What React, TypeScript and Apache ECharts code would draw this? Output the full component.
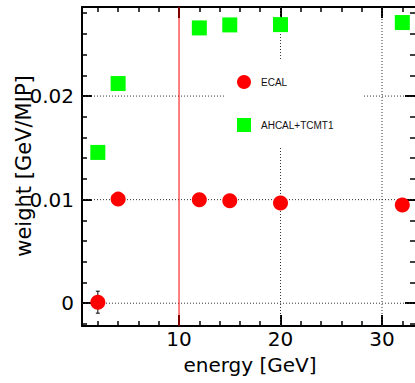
import React, { useEffect, useRef } from "react";
import * as echarts from "echarts";

// ---- data ----
const ENERGY = [2, 4, 12, 15, 20, 32];
const ECAL = [0.0001, 0.01005, 0.01, 0.0099, 0.00967, 0.00948];
const ECAL_ERR = [0.00106, 0.0003, 0.0002, 0.0002, 0.0002, 0.0002];
const AHCAL = [0.01456, 0.02121, 0.02658, 0.02687, 0.0269, 0.0271];

const X_MAJOR = [10, 20, 30];
const X_MINOR = [2, 4, 6, 8, 10, 12, 14, 16, 18, 20, 22, 24, 26, 28, 30, 32];
const Y_MAJOR = [0, 0.01, 0.02];
const Y_MINOR = [-0.002, 0, 0.002, 0.004, 0.006, 0.008, 0.01, 0.012, 0.014, 0.016, 0.018, 0.02, 0.022, 0.024, 0.026, 0.028];
const GRID_X = [20, 30];
const GRID_Y = [0, 0.01, 0.02];
const CUT_X = 10;

const X_MIN = 0.44;
const X_MAX = 33.25;
const Y_MIN = -0.0022;
const Y_MAX = 0.0286;

const FONT = "DejaVu Sans";

function xAx(position: "top" | "bottom", major: boolean, showLine: boolean, showLabel: boolean) {
  return {
    type: "value",
    min: X_MIN,
    max: X_MAX,
    position,
    axisLine: { show: showLine, onZero: false, lineStyle: { color: "#000", width: 2 } },
    axisTick: {
      show: true,
      inside: true,
      length: major ? 11 : 5,
      customValues: major ? X_MAJOR : X_MINOR,
      lineStyle: { color: "#000", width: major ? 2 : 1.5 },
    },
    axisLabel: {
      show: showLabel,
      customValues: X_MAJOR,
      margin: 5,
      fontFamily: FONT,
      fontSize: 20,
      lineHeight: 16,
      color: "#000",
    },
    splitLine: { show: false },
  };
}

function yAx(position: "left" | "right", major: boolean, showLine: boolean, showLabel: boolean) {
  return {
    type: "value",
    min: Y_MIN,
    max: Y_MAX,
    position,
    axisLine: { show: showLine, onZero: false, lineStyle: { color: "#000", width: 2 } },
    axisTick: {
      show: true,
      inside: true,
      length: major ? 10 : 5,
      customValues: major ? Y_MAJOR : Y_MINOR,
      lineStyle: { color: "#000", width: major ? 2 : 1.5 },
    },
    axisLabel: {
      show: showLabel,
      customValues: Y_MAJOR,
      margin: 8,
      fontFamily: FONT,
      fontSize: 20,
      color: "#000",
      formatter: (v: number) => (v === 0 ? "0" : String(v)),
    },
    splitLine: { show: false },
  };
}

function vLine(x: number, color: string, type: any, z: number) {
  return {
    type: "line",
    silent: true,
    z,
    symbol: "none",
    lineStyle: { color, width: 1, type, opacity: 1 },
    data: [[x, Y_MIN], [x, Y_MAX]],
  };
}
function hLine(y: number, color: string, type: any, z: number) {
  return {
    type: "line",
    silent: true,
    z,
    symbol: "none",
    lineStyle: { color, width: 1, type, opacity: 1 },
    data: [[X_MIN, y], [X_MAX, y]],
  };
}

export default function App() {
  const ref = useRef<HTMLDivElement>(null);
  useEffect(() => {
    if (!ref.current) return;
    const chart = echarts.init(ref.current, null, { renderer: "svg" });
    const option: any = {
      animation: false,
      backgroundColor: "#fff",
      grid: { left: 82, top: 7, right: 0, bottom: 57, containLabel: false },
      xAxis: [
        xAx("bottom", true, true, true),
        xAx("bottom", false, false, false),
        xAx("top", true, true, false),
        xAx("top", false, false, false),
      ],
      yAxis: [
        yAx("left", true, true, true),
        yAx("left", false, false, false),
        yAx("right", true, false, false),
        yAx("right", false, false, false),
      ],
      legend: {
        orient: "vertical",
        left: 226,
        top: 60,
        padding: [15, 30, 15, 11],
        itemGap: 29,
        itemWidth: 14,
        itemHeight: 14,
        backgroundColor: "#fff",
        selectedMode: false,
        textStyle: { fontFamily: "Liberation Sans", fontSize: 10, color: "#111", padding: [0, 0, 0, 5] },
        data: [
          { name: "ECAL", icon: "circle", itemStyle: { color: "#ff0000", opacity: 1 } },
          { name: "AHCAL+TCMT1", icon: "rect", itemStyle: { color: "#00ff00", opacity: 1 } },
        ],
      },
      graphic: [
        {
          type: "text",
          x: 250,
          y: 365,
          style: { text: "energy [GeV]", fontFamily: FONT, fontSize: 20, lineHeight: 16, fill: "#000", align: "center", verticalAlign: "middle" },
        },
        {
          type: "text",
          x: 24,
          y: 166,
          rotation: Math.PI / 2,
          style: { text: "weight [GeV/MIP]", fontFamily: FONT, fontSize: 21, fill: "#000", align: "center", verticalAlign: "middle" },
        },
      ],
      series: [
        ...GRID_X.map((v) => vLine(v, "#333", [1, 2], 1)),
        ...GRID_Y.map((v) => hLine(v, "#333", [1, 2], 1)),
        vLine(CUT_X, "#ff0000", "solid", 2),
        {
          name: "ecal-err",
          type: "custom",
          z: 2,
          silent: true,
          data: ENERGY.map((e, i) => [e, ECAL[i] - ECAL_ERR[i], ECAL[i] + ECAL_ERR[i]]),
          renderItem: (params: any, api: any) => {
            const p1 = api.coord([api.value(0), api.value(1)]);
            const p2 = api.coord([api.value(0), api.value(2)]);
            const st = { stroke: "#000", lineWidth: 1 };
            return {
              type: "group",
              children: [
                { type: "line", shape: { x1: p1[0], y1: p1[1], x2: p2[0], y2: p2[1] }, style: st },
                { type: "line", shape: { x1: p1[0] - 2, y1: p1[1], x2: p1[0] + 2, y2: p1[1] }, style: st },
                { type: "line", shape: { x1: p2[0] - 2, y1: p2[1], x2: p2[0] + 2, y2: p2[1] }, style: st },
              ],
            };
          },
        },
        {
          name: "ECAL",
          type: "scatter",
          z: 3,
          symbol: "circle",
          symbolSize: 15,
          itemStyle: { color: "#ff0000", opacity: 1 },
          data: ENERGY.map((e, i) => [e, ECAL[i]]),
        },
        {
          name: "AHCAL+TCMT1",
          type: "scatter",
          z: 3,
          symbol: "rect",
          symbolSize: 15,
          itemStyle: { color: "#00ff00", opacity: 1 },
          data: ENERGY.map((e, i) => [e, AHCAL[i]]),
        },
      ],
    };
    chart.setOption(option);
    return () => chart.dispose();
  }, []);
  return <div ref={ref} style={{ position: "fixed", left: 0, top: 0, width: 415, height: 383 }} />;
}
